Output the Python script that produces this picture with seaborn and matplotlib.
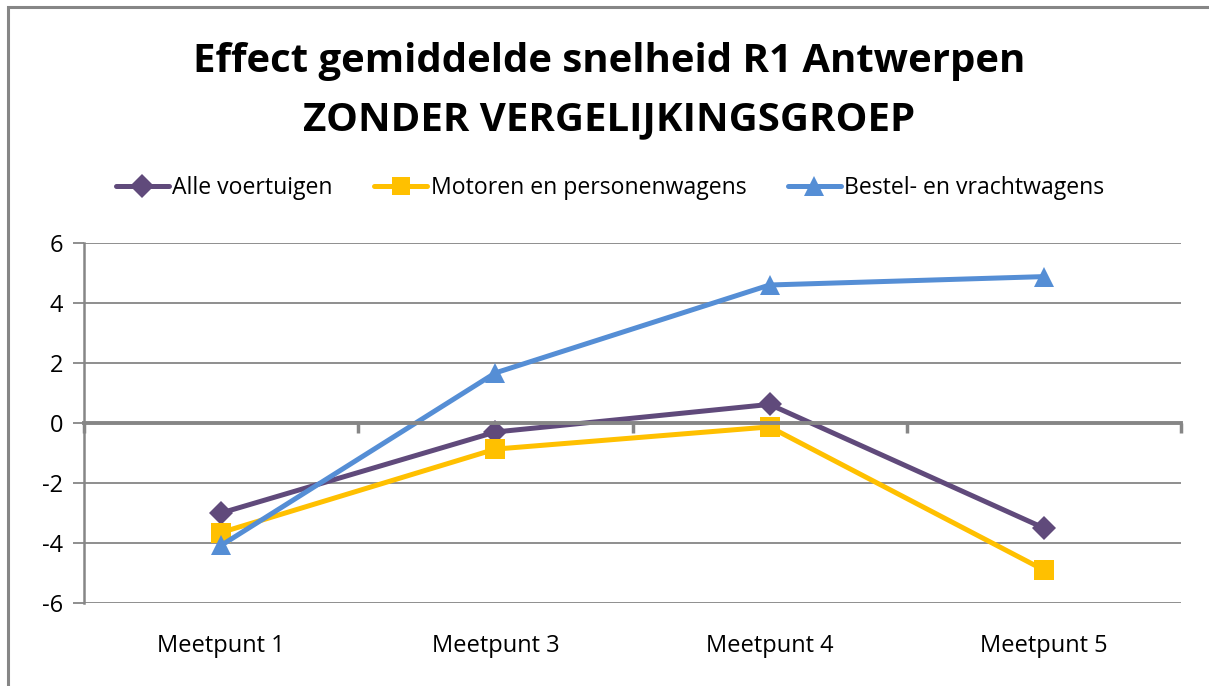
import matplotlib
matplotlib.use("Agg")
import matplotlib.pyplot as plt
import matplotlib.colors as mcolors
import seaborn as sns
import pandas as pd
from matplotlib.patches import Rectangle

categories = ["Meetpunt 1", "Meetpunt 3", "Meetpunt 4", "Meetpunt 5"]
alle_voertuigen = [-3.0, -0.3, 0.62, -3.5]
motoren_personenwagens = [-3.65, -0.87, -0.13, -4.9]
bestel_vrachtwagens = [-4.08, 1.67, 4.6, 4.88]
series_names = ["Alle voertuigen", "Motoren en personenwagens", "Bestel- en vrachtwagens"]
yticks = [-6, -4, -2, 0, 2, 4, 6]
title_text = "Effect gemiddelde snelheid R1 Antwerpen\nZONDER VERGELIJKINGSGROEP"

rows = []
for name, vals in zip(series_names, [alle_voertuigen, motoren_personenwagens, bestel_vrachtwagens]):
    for c, v in zip(categories, vals):
        rows.append({"Meetpunt": c, "Waarde": v, "Reeks": name})
df = pd.DataFrame(rows)

sns.set_theme(style="white")
plt.rcParams["font.family"] = ["Open Sans", "DejaVu Sans"]

fig = plt.figure(figsize=(12.09, 6.86), dpi=100)
ax = fig.add_axes([84/1209, 1-603/686, (1181-84)/1209, (603-243)/686])

palette = {"Alle voertuigen": "#604A7B",
           "Motoren en personenwagens": "#FFC000",
           "Bestel- en vrachtwagens": "#558ED5"}
markers = {"Alle voertuigen": "D",
           "Motoren en personenwagens": "s",
           "Bestel- en vrachtwagens": "^"}
sizes_m = {"Alle voertuigen": 12.5, "Motoren en personenwagens": 14, "Bestel- en vrachtwagens": 15}

sns.lineplot(data=df, x="Meetpunt", y="Waarde", hue="Reeks", style="Reeks",
             palette=palette, markers=markers, dashes=False, linewidth=3.6,
             markersize=12, markeredgewidth=0, sort=False, ax=ax, legend=True)

color_to_size = {mcolors.to_hex(palette[k]).lower(): v for k, v in sizes_m.items()}
for line in ax.get_lines():
    c = mcolors.to_hex(line.get_color()).lower()
    if c in color_to_size:
        line.set_markersize(color_to_size[c])

handles, labels = ax.get_legend_handles_labels()
for h in handles:
    c = mcolors.to_hex(h.get_color()).lower()
    if c in color_to_size:
        h.set_markersize(color_to_size[c] * 0.95)
        h.set_linewidth(3.6)
if ax.get_legend() is not None:
    ax.get_legend().remove()

grid_c = "#868686"
ax.set_xlim(-0.5, 3.5)
ax.set_ylim(-6, 6)
ax.set_yticks(yticks)
ax.set_yticklabels([str(t) for t in yticks])
ax.yaxis.grid(True, color=grid_c, linewidth=1.3)
ax.set_axisbelow(True)
for s in ["top", "right"]:
    ax.spines[s].set_visible(False)
ax.spines["left"].set_color(grid_c)
ax.spines["left"].set_linewidth(1.8)
ax.tick_params(axis="y", direction="out", length=8, width=1.3, color=grid_c,
               labelsize=17, pad=7, left=True, labelcolor="black")

# zero axis line with category-boundary ticks pointing down
ax.spines["bottom"].set_position(("data", 0))
ax.spines["bottom"].set_color(grid_c)
ax.spines["bottom"].set_linewidth(2.8)
ax.set_xticks(range(len(categories)))
ax.set_xticklabels([])
ax.set_xticks([-0.5, 0.5, 1.5, 2.5, 3.5], minor=True)
ax.tick_params(axis="x", which="major", length=0, bottom=False)
ax.tick_params(axis="x", which="minor", direction="out", length=7, width=2.5,
               color=grid_c, bottom=True)
ax.set_xlabel("")
ax.set_ylabel("")

# category labels at the bottom of the plot area
sec = ax.secondary_xaxis("bottom")
sec.set_xticks(range(len(categories)))
sec.set_xticklabels(categories)
sec.spines["bottom"].set_visible(False)
sec.tick_params(axis="x", length=0, labelsize=17, pad=22, labelcolor="black")

leg = fig.legend(handles, labels, loc="center", ncol=3, frameon=False, fontsize=16.6,
                 handlelength=2.3, handletextpad=0.15, columnspacing=1.8,
                 bbox_to_anchor=(610/1209, 1 - 188/686), bbox_transform=fig.transFigure)
for t in leg.get_texts():
    t.set_color("black")

fig.text(609/1209, 1-91/686, title_text, ha="center", va="center",
         fontsize=28.9, fontweight="bold", linespacing=1.65, color="black")

fig.patches.append(Rectangle((8/1209, -0.01), 1.2, 1 - 7/686 + 0.01, transform=fig.transFigure,
                             fill=False, edgecolor=grid_c, linewidth=2.2, figure=fig))

fig.savefig("out.png", dpi=100, facecolor="white")
